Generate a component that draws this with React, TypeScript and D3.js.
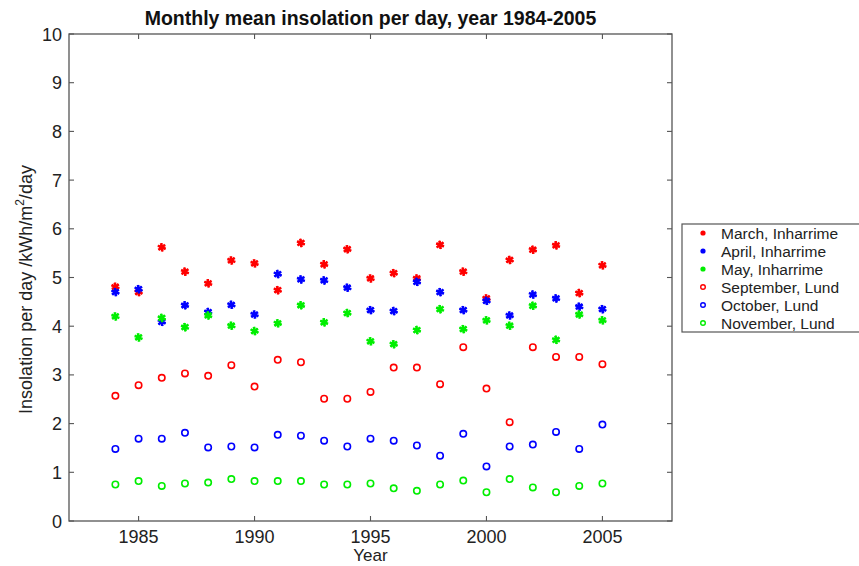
import React from "react";
import * as d3 from "d3";

const years = d3.range(1984, 2006);
const marchInh = [4.81, 4.70, 5.62, 5.12, 4.88, 5.35, 5.29, 4.74, 5.71, 5.27, 5.58, 4.98, 5.09, 4.98, 5.67, 5.12, 4.57, 5.36, 5.57, 5.66, 4.68, 5.25];
const aprilInh = [4.70, 4.76, 4.09, 4.43, 4.29, 4.44, 4.24, 5.07, 4.96, 4.94, 4.79, 4.33, 4.31, 4.91, 4.70, 4.33, 4.52, 4.22, 4.65, 4.57, 4.40, 4.35];
const mayInh = [4.20, 3.77, 4.17, 3.98, 4.22, 4.01, 3.90, 4.06, 4.43, 4.08, 4.27, 3.69, 3.63, 3.92, 4.35, 3.94, 4.12, 4.01, 4.42, 3.72, 4.24, 4.12];
const septLund = [2.57, 2.79, 2.94, 3.03, 2.98, 3.20, 2.76, 3.31, 3.26, 2.51, 2.51, 2.65, 3.15, 3.15, 2.81, 3.57, 2.72, 2.03, 3.57, 3.37, 3.37, 3.22];
const octLund = [1.48, 1.69, 1.69, 1.81, 1.51, 1.53, 1.51, 1.77, 1.75, 1.65, 1.53, 1.69, 1.65, 1.55, 1.34, 1.79, 1.12, 1.53, 1.57, 1.83, 1.48, 1.98];
const novLund = [0.75, 0.82, 0.72, 0.77, 0.79, 0.86, 0.82, 0.82, 0.82, 0.75, 0.75, 0.77, 0.67, 0.62, 0.75, 0.83, 0.59, 0.86, 0.69, 0.59, 0.72, 0.77];

const xTicks = [1985, 1990, 1995, 2000, 2005];
const yTicks = d3.range(0, 11);

const series = [
  { name: "March, Inharrime", values: marchInh, color: "#ff0000", star: true },
  { name: "April, Inharrime", values: aprilInh, color: "#0000ff", star: true },
  { name: "May, Inharrime", values: mayInh, color: "#00ee00", star: true },
  { name: "September, Lund", values: septLund, color: "#ff0000", star: false },
  { name: "October, Lund", values: octLund, color: "#0000ff", star: false },
  { name: "November, Lund", values: novLund, color: "#00ee00", star: false },
];

const L = 69, R = 672, T = 34, B = 521;
const FONT = "'Liberation Sans', Arial, Helvetica, sans-serif";
const AX = "#555";
const TXT = "#222";

function Marker({ x, y, color, star }: { x: number; y: number; color: string; star: boolean }) {
  if (star) {
    const p = d3.symbol().type(d3.symbolAsterisk).size(50)();
    return (
      <g transform={`translate(${x},${y})`}>
        <circle r={2.6} fill={color} />
        <path d={p || ""} stroke={color} strokeWidth={1.8} fill="none" />
        <path d={p || ""} stroke={color} strokeWidth={1.8} fill="none" transform="rotate(45)" />
      </g>
    );
  }
  return <circle cx={x} cy={y} r={3.2} fill="none" stroke={color} strokeWidth={1.6} />;
}

export default function App() {
  const x = d3.scaleLinear().domain([1982, 2008]).range([L, R]);
  const y = d3.scaleLinear().domain([0, 10]).range([B, T]);
  const tl = 5;
  return (
    <svg width={859} height={566} style={{ position: "absolute", left: 0, top: 0 }} fontFamily={FONT}>
      <rect x={0} y={0} width={859} height={566} fill="#fff" />
      <text x={(L + R) / 2} y={25} textAnchor="middle" fontWeight="bold" fontSize={19.5} fill="#111">
        Monthly mean insolation per day, year 1984-2005
      </text>
      {/* frame */}
      <rect x={L} y={T} width={R - L} height={B - T} fill="none" stroke={AX} strokeWidth={1.3} />
      {xTicks.map((t) => (
        <g key={"xt" + t}>
          <line x1={x(t)} x2={x(t)} y1={B} y2={B - tl} stroke={AX} strokeWidth={1.1} />
          <line x1={x(t)} x2={x(t)} y1={T} y2={T + tl} stroke={AX} strokeWidth={1.1} />
          <text x={x(t)} y={B + 22} textAnchor="middle" fontSize={18} fill={TXT}>{t}</text>
        </g>
      ))}
      {yTicks.map((t) => (
        <g key={"yt" + t}>
          <line x1={L} x2={L + tl} y1={y(t)} y2={y(t)} stroke={AX} strokeWidth={1.1} />
          <line x1={R} x2={R - tl} y1={y(t)} y2={y(t)} stroke={AX} strokeWidth={1.1} />
          <text x={L - 7} y={y(t) + 6.5} textAnchor="end" fontSize={18} fill={TXT}>{t}</text>
        </g>
      ))}
      <text x={(L + R) / 2} y={561} textAnchor="middle" fontSize={17} fill={TXT}>Year</text>
      <text transform={`translate(32,${(T + B) / 2 + 12}) rotate(-90)`} textAnchor="middle" fontSize={18} fill={TXT}>
        Insolation per day /kWh/m<tspan dy={-8} fontSize={12}>2</tspan><tspan dy={8}>/day</tspan>
      </text>
      {/* data */}
      {series.map((s) =>
        s.values.map((v, i) => (
          <Marker key={s.name + i} x={x(years[i])} y={y(v)} color={s.color} star={s.star} />
        ))
      )}
      {/* legend */}
      <rect x={682} y={224} width={190} height={108} fill="#fff" stroke={AX} strokeWidth={1.2} />
      {series.map((s, i) => {
        const cy = 233 + i * 18;
        return (
          <g key={"lg" + i}>
            {s.star ? (
              <circle cx={703} cy={cy} r={2.6} fill={s.color} />
            ) : (
              <circle cx={703} cy={cy} r={2.3} fill="none" stroke={s.color} strokeWidth={1.4} />
            )}
            <text x={721} y={cy + 5.5} fontSize={15.5} fill={TXT}>{s.name}</text>
          </g>
        );
      })}
    </svg>
  );
}
